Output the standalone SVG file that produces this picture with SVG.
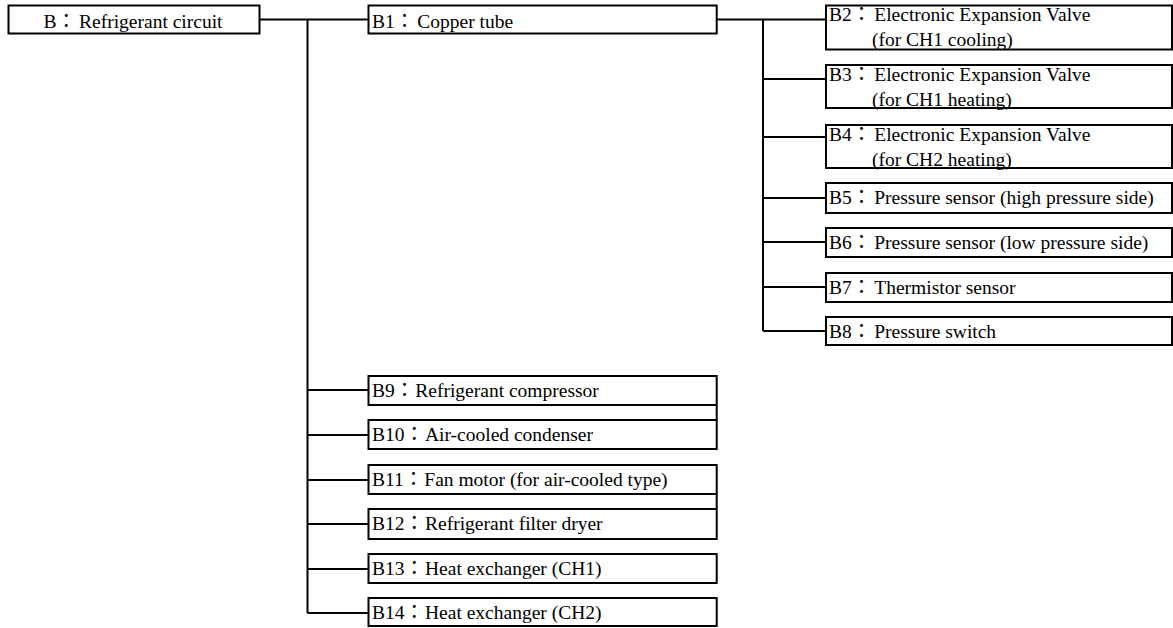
<svg xmlns="http://www.w3.org/2000/svg" width="1173" height="628" viewBox="0 0 1173 628">
<style>
.box{fill:#fff;stroke:#000;stroke-width:2}
.ln{fill:none;stroke:#000;stroke-width:2}
text{font-family:"Liberation Serif","Noto Sans CJK JP",serif;font-size:19.5px;fill:#000}
</style>
<rect width="1173" height="628" fill="#fff"/>
<g id="connectors">
<path class="ln" d="M259.5 19.5H368.5M307.5 19.5V613M307.5 390H368.5M307.5 435H368.5M307.5 480H368.5M307.5 524H368.5M307.5 569H368.5M307.5 613H368.5"/>
<path class="ln" d="M716.7 19.5H826M763 19.5V331M763 79H826M763 137H826M763 198H826M763 242H826M763 287H826M763 331H826"/>
<path class="ln" d="M716.7 405V420M716.7 494V509"/>
</g>
<g id="B"><rect class="box" x="8.5" y="5.5" width="251" height="28"/><text x="133" y="27.5" text-anchor="middle">B：<tspan dx="3">Refrigerant circuit</tspan></text></g>
<g id="B1"><rect class="box" x="368.5" y="5.5" width="348.2" height="28"/><text x="372" y="27.5">B1：<tspan dx="3">Copper tube</tspan></text></g>
<g id="B2"><rect class="box" x="826" y="5.5" width="346" height="44"/><text x="829" y="21">B2：<tspan dx="3">Electronic Expansion Valve</tspan></text><text x="872" y="46">(for CH1 cooling)</text></g>
<g id="B3"><rect class="box" x="826" y="65" width="346" height="43"/><text x="829" y="80.5">B3：<tspan dx="3">Electronic Expansion Valve</tspan></text><text x="872" y="105.5">(for CH1 heating)</text></g>
<g id="B4"><rect class="box" x="826" y="125" width="346" height="43"/><text x="829" y="140.5">B4：<tspan dx="3">Electronic Expansion Valve</tspan></text><text x="872" y="165.5">(for CH2 heating)</text></g>
<g id="B5"><rect class="box" x="826" y="183" width="346" height="30"/><text x="829" y="204">B5：<tspan dx="3">Pressure sensor (high pressure side)</tspan></text></g>
<g id="B6"><rect class="box" x="826" y="228" width="346" height="29"/><text x="829" y="249">B6：<tspan dx="3">Pressure sensor (low pressure side)</tspan></text></g>
<g id="B7"><rect class="box" x="826" y="273" width="346" height="29"/><text x="829" y="294">B7：<tspan dx="3">Thermistor sensor</tspan></text></g>
<g id="B8"><rect class="box" x="826" y="317" width="346" height="28"/><text x="829" y="338">B8：<tspan dx="3">Pressure switch</tspan></text></g>
<g id="B9"><rect class="box" x="368.5" y="376" width="348.2" height="29"/><text x="372" y="397">B9：<tspan dx="1">Refrigerant compressor</tspan></text></g>
<g id="B10"><rect class="box" x="368.5" y="420" width="348.2" height="29"/><text x="372" y="441">B10：<tspan dx="1">Air-cooled condenser</tspan></text></g>
<g id="B11"><rect class="box" x="368.5" y="465" width="348.2" height="29"/><text x="372" y="486">B11：<tspan dx="1">Fan motor (for air-cooled type)</tspan></text></g>
<g id="B12"><rect class="box" x="368.5" y="509" width="348.2" height="30"/><text x="372" y="530">B12：<tspan dx="1">Refrigerant filter dryer</tspan></text></g>
<g id="B13"><rect class="box" x="368.5" y="554" width="348.2" height="29"/><text x="372" y="575">B13：<tspan dx="1">Heat exchanger (CH1)</tspan></text></g>
<g id="B14"><rect class="box" x="368.5" y="598" width="348.2" height="28"/><text x="372" y="619">B14：<tspan dx="1">Heat exchanger (CH2)</tspan></text></g>
</svg>
